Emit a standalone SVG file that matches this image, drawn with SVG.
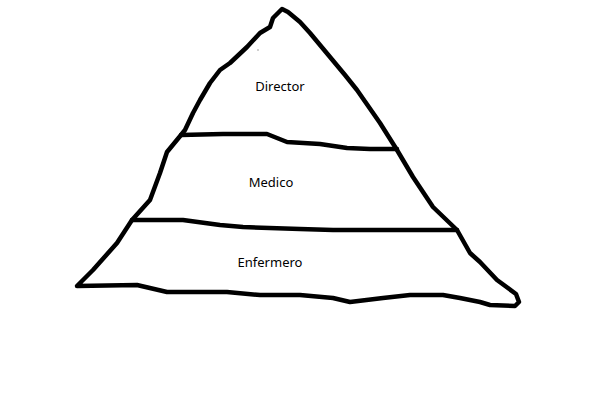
<svg xmlns="http://www.w3.org/2000/svg" width="603" height="419" viewBox="0 0 603 419">
  <style>
    .ink { fill: none; stroke: #000; stroke-width: 4.5; stroke-linejoin: round; stroke-linecap: round; }
    .lbl { font-family: "Noto Sans", "Open Sans", sans-serif; font-size: 13px; fill: #000; text-anchor: middle; }
  </style>
  <rect width="603" height="419" fill="#fff"/>
  <g id="connectors">
    <path id="outline" class="ink" d="M77,286 L93,270 L117,243 L132,220 L150,200 L160,173 L167,152 L181,135 L185,130 L193,113 L200,100 L210,83 L220,70 L230,63 L247,47 L260,33 L270,27 L273,18 L282,9 L288,12 L300,22 L310,33 L330,57 L345,75 L357,90 L380,123 L397,150 L413,177 L433,207 L457,230 L470,253 L480,262 L497,280 L516,294 L519,302 L515,306 L490,305 L480,302 L460,298 L443,295 L410,295 L383,298 L350,302 L333,298 L300,295 L260,295 L227,292 L167,292 L137,285 Z"/>
    <path id="line-top" class="ink" d="M181,135 L223,134 L267,134 L287,142 L320,144 L347,148 L370,149 L397,149"/>
    <path id="line-mid" class="ink" d="M132,220 L183,220 L220,225 L243,227 L300,229 L333,230 L457,230"/>
  </g>
  <g id="tier-director">
    <text class="lbl" x="280" y="91">Director</text>
    <rect x="257.5" y="49.5" width="1" height="1" fill="#444"/>
  </g>
  <g id="tier-medico">
    <text class="lbl" x="271" y="187">Medico</text>
  </g>
  <g id="tier-enfermero">
    <text class="lbl" x="270" y="267">Enfermero</text>
  </g>
</svg>
